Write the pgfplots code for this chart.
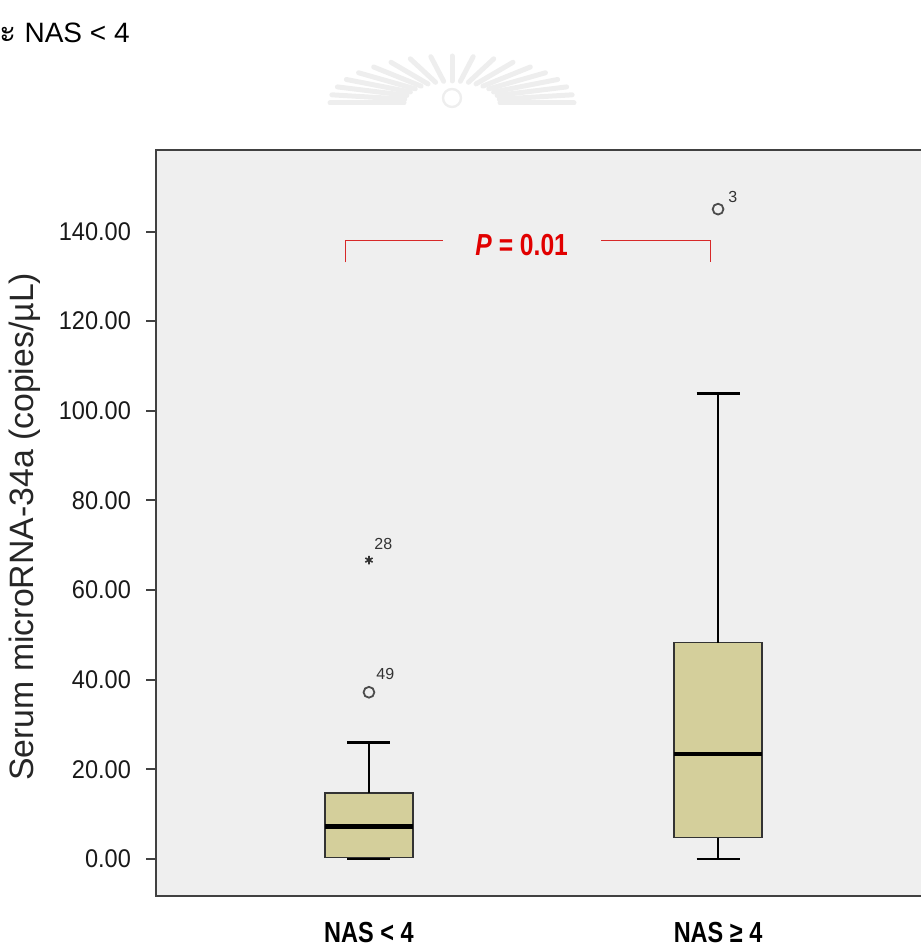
\documentclass[border=0pt]{standalone}
\usepackage{pgfplots}
\pgfplotsset{compat=1.18}
\usepackage{fontspec}
\setmainfont{Liberation Sans}
\newfontfamily\thaifont[Script=Thai]{Loma}
\newfontfamily\narrowfont[FakeStretch=0.81]{Liberation Sans}
\newfontfamily\tickfont[FakeStretch=0.92]{Liberation Sans}
\definecolor{bgcol}{RGB}{239,239,239}
\definecolor{boxfill}{RGB}{212,207,155}
\definecolor{axiscol}{RGB}{65,65,65}
\definecolor{pred}{RGB}{225,0,0}
\definecolor{bracketred}{RGB}{215,40,40}
\definecolor{wm}{RGB}{238,238,238}
\begin{document}
\begin{tikzpicture}
% decorations in pixel coordinates (origin top-left)
\begin{scope}[shift={(0pt,473pt)}, x=0.5pt, y=-0.5pt]
  \foreach \a in {0,10,...,180} {
    \draw[wm, line width=2.5pt, line cap=round]
      ({452+48*cos(\a)},{103-22*sin(\a)}) -- ({452+122*cos(\a)},{103-47*sin(\a)});
  }
  \draw[wm, line width=1.2pt] (452pt*0.5,-98pt*0.5) ++(0,0) circle [radius=4.5pt];
  \node[anchor=base east, inner sep=0pt, font=\fontsize{14}{16}\selectfont]
    at (130,43) {{\thaifont\fontsize{16}{18}\selectfont และ} NAS < 4};
\end{scope}
\begin{axis}[
  at={(78pt,25pt)}, anchor=south west,
  scale only axis, width=387.5pt, height=373pt,
  xmin=0.39, xmax=2.61, ymin=-8.26, ymax=158.2,
  axis background/.style={fill=bgcol},
  axis line style={draw=axiscol, line width=1.2pt},
  xtick={1,2}, xticklabels={NAS < 4, NAS ≥ 4},
  xtick style={draw=none},
  ytick={0,20,...,140},
  ytick style={draw=axiscol, line width=1pt},
  tick align=outside, tick pos=left,
  major tick length=5pt,
  scaled y ticks=false,
  y tick label style={/pgf/number format/.cd, fixed, fixed zerofill, precision=2, assume math mode=true, /tikz/.cd, font=\tickfont\fontsize{12.8}{14}\selectfont, text=black!90, xshift=-4pt},
  x tick label style={font=\narrowfont\bfseries\fontsize{14.5}{16}\selectfont, inner sep=0pt, yshift=-7.8pt},
  ylabel={Serum microRNA-34a (copies/µL)},
  ylabel style={at={(axis description cs:-0.169,0.495)}, rotate=0, anchor=center, font=\fontsize{16.9}{18}\selectfont, text=black!85},
  clip=false,
]
% NAS < 4 : box (Q1=0.29, Q3=14.66), median 7.21, whiskers 0 .. 25.95
\addplot[fill=boxfill, draw=black!80, line width=0.8pt] coordinates {(0.8745,0.29) (1.1255,0.29) (1.1255,14.66) (0.8745,14.66)} -- cycle;
\addplot[black, line width=2.2pt] coordinates {(0.8745,7.21) (1.1255,7.21)};
\addplot[black, line width=0.9pt] coordinates {(1,14.66) (1,25.95)};
\addplot[black, line width=1.4pt] coordinates {(0.9385,25.95) (1.0615,25.95)};
\addplot[black, line width=1.4pt] coordinates {(0.9385,0) (1.0615,0)};
% NAS >= 4 : box (Q1=4.75, Q3=48.27), median 23.37, whiskers 0 .. 103.9
\addplot[fill=boxfill, draw=black!80, line width=0.8pt] coordinates {(1.8745,4.75) (2.1255,4.75) (2.1255,48.27) (1.8745,48.27)} -- cycle;
\addplot[black, line width=2.2pt] coordinates {(1.8745,23.37) (2.1255,23.37)};
\addplot[black, line width=0.9pt] coordinates {(2,48.27) (2,103.9)};
\addplot[black, line width=0.9pt] coordinates {(2,4.75) (2,0)};
\addplot[black, line width=1.4pt] coordinates {(1.9385,103.9) (2.0615,103.9)};
\addplot[black, line width=1.4pt] coordinates {(1.9385,0) (2.0615,0)};
% outliers
\addplot[only marks, mark=o, mark size=2.7pt, mark options={line width=0.9pt, draw=black!70}] coordinates {(1,37.2) (2,145.0)};
\addplot[only marks, mark=asterisk, mark size=2.1pt, mark options={line width=0.8pt, draw=black!80}] coordinates {(1,66.7)};
% outlier case labels
\node[anchor=base west, inner sep=0pt, font=\fontsize{8}{9}\selectfont, text=black!80, xshift=2.5pt, yshift=5.5pt] at (axis cs:1,66.7) {28};
\node[anchor=base west, inner sep=0pt, font=\fontsize{8}{9}\selectfont, text=black!80, xshift=3.5pt, yshift=6.2pt] at (axis cs:1,37.2) {49};
\node[anchor=base west, inner sep=0pt, font=\fontsize{8}{9}\selectfont, text=black!80, xshift=5pt, yshift=3.5pt] at (axis cs:2,145.0) {3};
% significance bracket
\draw[bracketred, line width=0.6pt] (axis cs:0.933,133.1) -- (axis cs:0.933,138.0) -- (axis cs:1.212,138.0);
\draw[bracketred, line width=0.6pt] (axis cs:1.665,138.0) -- (axis cs:1.979,138.0) -- (axis cs:1.979,133.1);
\node[anchor=center, inner sep=0pt, text=pred, font=\narrowfont\bfseries\fontsize{15.2}{17}\selectfont] at (axis cs:1.4375,137.0) {\textit{P} = 0.01};
\end{axis}
\pgfresetboundingbox
\useasboundingbox (0,0) rectangle (460pt,473pt);
\end{tikzpicture}
\end{document}
